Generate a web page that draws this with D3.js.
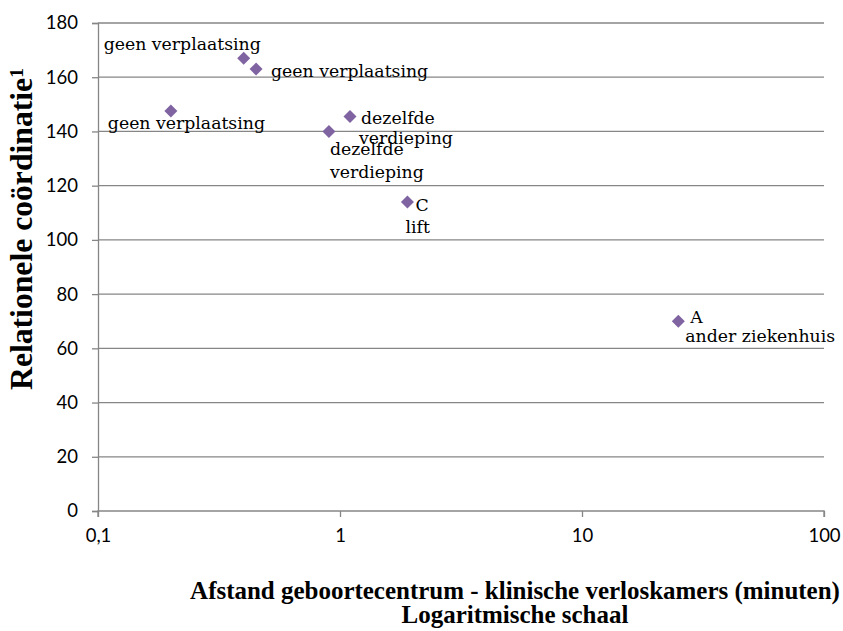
<!DOCTYPE html>
<html>
<head>
<meta charset="utf-8">
<script src="https://cdn.jsdelivr.net/npm/d3@7"></script>
<style>
  html, body { margin: 0; padding: 0; background: #fff; }
  svg { display: block; }
</style>
</head>
<body>
<svg id="chart" width="843" height="631"></svg>
<script>
// Afstand (minuten, log-schaal) tegen relationele coördinatie per geboortecentrum
const distances = [0.2, 0.4, 0.45, 0.9, 1.1, 1.9, 25];
const coordination = [147.5, 167, 163, 140, 145.5, 114, 70];
const pointLabels = [
  ["geen verplaatsing"],
  ["geen verplaatsing"],
  ["geen verplaatsing"],
  ["dezelfde", "verdieping"],
  ["dezelfde", "verdieping"],
  ["C", "lift"],
  ["A", "ander ziekenhuis"]
];
// label placement relative to each marker: [dx, dy of first baseline, line step]
const labelOffsets = [
  [-63, 18, 0],
  [-140, -8, 0],
  [15, 8, 0],
  [1, 24, 23],
  [11, 7, 20],
  [8, 9, 22],
  [12, 2, 19]
];
const lineShifts = [
  [0], [0], [0], [0, 0], [0, -2], [0, -10], [0, -5]
];
const xTicks = [0.1, 1, 10, 100];
const xTickLabels = ["0,1", "1", "10", "100"];
const yTicks = [0, 20, 40, 60, 80, 100, 120, 140, 160, 180];
const xTitleLines = ["Afstand geboortecentrum - klinische verloskamers (minuten)", "Logaritmische schaal"];
const yTitle = "Relationele coördinatie";

const svg = d3.select("#chart");
const plotLeft = 98, plotRight = 824, plotTop = 23, plotBottom = 511;

const x = d3.scaleLog().domain([0.1, 100]).range([plotLeft, plotRight]);
const y = d3.scaleLinear().domain([0, 180]).range([plotBottom, plotTop]);

const gridColor = "#868686";
const tickFont = "Lato, 'Open Sans', sans-serif";
const serif = "'DejaVu Serif', 'Liberation Serif', serif";
const titleSerif = "'Liberation Serif', 'DejaVu Serif', serif";

// scale a text's font size so its drawn width equals the given width
function fitWidth(sel, width) {
  const size = parseFloat(sel.attr("font-size"));
  const w = sel.node().getComputedTextLength();
  const fitted = size * width / w;
  sel.attr("font-size", fitted);
  return fitted;
}

// horizontal gridlines
svg.append("g")
  .selectAll("line")
  .data(yTicks.filter(d => d > 0))
  .join("line")
  .attr("x1", plotLeft).attr("x2", plotRight)
  .attr("y1", d => y(d)).attr("y2", d => y(d))
  .attr("stroke", gridColor).attr("stroke-width", 1.3);

// y axis
const yAxis = svg.append("g")
  .attr("transform", `translate(${plotLeft},0)`)
  .call(d3.axisLeft(y).tickValues(yTicks).tickSize(6).tickPadding(14).tickFormat(d3.format("d")));
yAxis.select(".domain").attr("stroke", gridColor).attr("stroke-width", 1.3);
yAxis.selectAll(".tick line").attr("stroke", gridColor).attr("stroke-width", 1.3);
yAxis.selectAll(".tick text")
  .attr("font-family", tickFont).attr("font-size", 18.5).attr("fill", "#000");

// x axis
const xAxis = svg.append("g")
  .attr("transform", `translate(0,${plotBottom})`)
  .call(d3.axisBottom(x).tickValues(xTicks).tickSize(6).tickPadding(12)
    .tickFormat((d, i) => xTickLabels[i]));
xAxis.select(".domain").attr("stroke", gridColor).attr("stroke-width", 1.3)
  .attr("d", `M${plotLeft},6V0H${plotRight}V6`);
xAxis.selectAll(".tick line").attr("stroke", gridColor).attr("stroke-width", 1.3);
xAxis.selectAll(".tick text")
  .attr("font-family", tickFont).attr("font-size", 18.5).attr("fill", "#000");

// markers
const r = 6.5;
const points = distances.map((d, i) => ({ x: d, y: coordination[i], lines: pointLabels[i], off: labelOffsets[i], shift: lineShifts[i] }));

svg.append("g")
  .selectAll("path")
  .data(points)
  .join("path")
  .attr("d", `M0,${-r}L${r},0L0,${r}L${-r},0Z`)
  .attr("transform", d => `translate(${x(d.x)},${y(d.y)})`)
  .attr("fill", "#8064A2");

// point labels
const lbl = svg.append("g")
  .attr("font-family", serif).attr("font-size", 17.3).attr("fill", "#000");
points.forEach(p => {
  const px = x(p.x), py = y(p.y);
  const [dx, dy, step] = p.off;
  p.lines.forEach((line, j) => {
    lbl.append("text")
      .attr("x", px + dx + p.shift[j])
      .attr("y", py + dy + j * step)
      .text(line);
  });
});

// y title
const yt = svg.append("text")
  .attr("transform", "translate(32,229) rotate(-90)")
  .attr("text-anchor", "middle")
  .attr("font-family", titleSerif).attr("font-size", 20).attr("font-weight", "bold")
  .text(yTitle);
yt.append("tspan").attr("dy", -9).attr("font-size", "0.62em").text("1");
fitWidth(yt, 322);

// x title
const xt = svg.append("g")
  .attr("font-family", titleSerif).attr("font-weight", "bold")
  .attr("text-anchor", "middle")
  .selectAll("text")
  .data(xTitleLines)
  .join("text")
  .attr("font-size", 20)
  .attr("x", 515)
  .attr("y", (d, i) => 599 + i * 23.5)
  .text(d => d);
const xSize = fitWidth(d3.select(xt.nodes()[0]), 650);
xt.attr("font-size", xSize);
</script>
</body>
</html>
